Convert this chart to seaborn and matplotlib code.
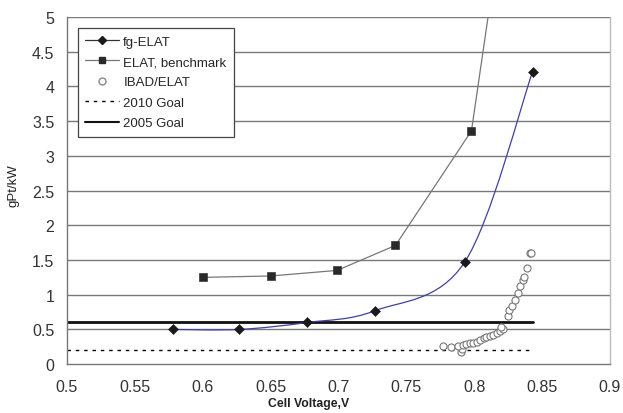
import numpy as np
import pandas as pd
import matplotlib
matplotlib.use("Agg")
import matplotlib.pyplot as plt
from matplotlib.path import Path
from matplotlib.patches import PathPatch
from matplotlib.lines import Line2D
import seaborn as sns

# ---- data ----
fg_x = [0.578, 0.627, 0.677, 0.727, 0.793, 0.843]
fg_y = [0.50, 0.50, 0.60, 0.77, 1.47, 4.21]

bench_x = [0.600, 0.650, 0.699, 0.742, 0.798, 0.840]
bench_y = [1.25, 1.27, 1.35, 1.71, 3.36, 9.0]

ibad_x = [0.777, 0.783, 0.790, 0.791, 0.788, 0.792, 0.794, 0.797, 0.799, 0.802,
          0.804, 0.807, 0.809, 0.812, 0.814, 0.817, 0.819, 0.821, 0.820, 0.825,
          0.826, 0.828, 0.830, 0.832, 0.834, 0.836, 0.839, 0.841, 0.842, 0.837]
ibad_y = [0.26, 0.24, 0.18, 0.22, 0.26, 0.28, 0.29, 0.30, 0.31, 0.32,
          0.35, 0.37, 0.39, 0.41, 0.42, 0.45, 0.48, 0.50, 0.53, 0.69,
          0.78, 0.84, 0.93, 1.02, 1.13, 1.21, 1.39, 1.60, 1.60, 1.26]

goal_x = [0.5, 0.843]
goal2010_y = [0.2, 0.2]
goal2005_y = [0.6, 0.6]

xticks = [0.5, 0.55, 0.6, 0.65, 0.7, 0.75, 0.8, 0.85, 0.9]
xtick_labels = ["0.5", "0.55", "0.6", "0.65", "0.7", "0.75", "0.8", "0.85", "0.9"]
yticks = [0, 0.5, 1, 1.5, 2, 2.5, 3, 3.5, 4, 4.5, 5]
ytick_labels = ["0", "0.5", "1", "1.5", "2", "2.5", "3", "3.5", "4", "4.5", "5"]

sns.set_theme(style="white")
plt.rcParams['font.family'] = ['Liberation Sans', 'DejaVu Sans']

fig = plt.figure(figsize=(6.23, 4.14), dpi=100)
ax = fig.add_axes([0.1075, 0.118, 0.979 - 0.1075, 0.9565 - 0.118])

ax.set_xlim(0.5, 0.9)
ax.set_ylim(0, 5)

# grid
for yv in yticks[1:]:
    ax.axhline(yv, color="#7a7a7a", lw=1.0, zorder=0)

# goal lines
sns.lineplot(x=goal_x, y=goal2010_y, ax=ax, color="black", lw=1.0,
             linestyle=(0, (2.5, 3.5)), zorder=2)
sns.lineplot(x=goal_x, y=goal2005_y, ax=ax, color="#111111", lw=2.0, zorder=2)

# fg-ELAT smooth (Excel-style smoothed line through the data points)
px = np.array(fg_x)
py = np.array(fg_y)
verts = [(px[0], py[0])]
codes = [Path.MOVETO]
n = len(px)
for i in range(n - 1):
    p0 = np.array([px[max(i - 1, 0)], py[max(i - 1, 0)]])
    p1 = np.array([px[i], py[i]])
    p2 = np.array([px[i + 1], py[i + 1]])
    p3 = np.array([px[min(i + 2, n - 1)], py[min(i + 2, n - 1)]])
    c1 = p1 + (p2 - p0) / 6.0
    c2 = p2 - (p3 - p1) / 6.0
    verts += [tuple(c1), tuple(c2), tuple(p2)]
    codes += [Path.CURVE4, Path.CURVE4, Path.CURVE4]
ax.add_patch(PathPatch(Path(verts, codes), fill=False, edgecolor="#4040a0",
                       lw=0.9, zorder=3))
sns.scatterplot(x=fg_x, y=fg_y, ax=ax, marker="D", s=26, color="#1a1a1a",
                edgecolor="#1a1a1a", zorder=4)

# benchmark
sns.lineplot(x=bench_x, y=bench_y, ax=ax, color="#777777", lw=0.9, zorder=3)
sns.scatterplot(x=bench_x, y=bench_y, ax=ax, marker="s", s=30, color="#2a2a2a",
                edgecolor="#2a2a2a", zorder=4)

# IBAD/ELAT
sns.scatterplot(x=ibad_x, y=ibad_y, ax=ax, marker="o", s=26, facecolor="white",
                edgecolor="#777777", linewidth=0.8, zorder=5)

ax.set_xticks(xticks)
ax.set_xticklabels(xtick_labels)
ax.set_yticks(yticks)
ax.set_yticklabels(ytick_labels)
ax.tick_params(axis="both", which="both", direction="out", length=5, width=1,
               color="#777777", labelsize=11.5, labelcolor="#333333", pad=4)
ax.tick_params(axis="x", pad=6)

for side in ["left", "bottom"]:
    ax.spines[side].set_color("#777777")
    ax.spines[side].set_linewidth(1.0)
ax.spines["right"].set_color("#bbbbbb")
ax.spines["right"].set_linewidth(1.0)
ax.spines["top"].set_visible(False)

ax.set_xlabel("Cell Voltage,V", fontsize=8.8, fontweight="bold", color="#222222")
ax.xaxis.set_label_coords((309 - 67) / 543, -0.094)
ax.set_ylabel("gPt/kW", fontsize=9.5, color="#222222")
ax.yaxis.set_label_coords(-0.088, (365 - 186) / 347)

handles = [
    Line2D([], [], color="#333333", lw=0.9, marker="D", markersize=4.5,
           markerfacecolor="#1a1a1a", markeredgecolor="#1a1a1a"),
    Line2D([], [], color="#777777", lw=0.9, marker="s", markersize=5,
           markerfacecolor="#2a2a2a", markeredgecolor="#2a2a2a"),
    Line2D([], [], color="none", marker="o", markersize=5,
           markerfacecolor="white", markeredgecolor="#888888"),
    Line2D([], [], color="black", lw=1.0, linestyle=(0, (2.5, 3.5))),
    Line2D([], [], color="#111111", lw=1.5),
]
labels = ["fg-ELAT", "ELAT, benchmark", "IBAD/ELAT", "2010 Goal", "2005 Goal"]
leg = ax.legend(handles, labels, loc="upper left", bbox_to_anchor=(0.02, 0.968),
                fontsize=9.5, frameon=True, fancybox=False, framealpha=1,
                edgecolor="#444444", handlelength=2.6, handletextpad=0.3,
                labelspacing=0.62, borderpad=0.55, borderaxespad=0)
leg.get_frame().set_linewidth(0.9)
leg.set_zorder(10)

fig.savefig("out.png", dpi=100, facecolor="white")
